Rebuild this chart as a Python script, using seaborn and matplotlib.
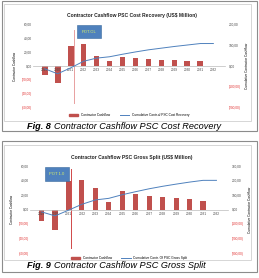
import numpy as np
import pandas as pd
import seaborn as sns
import matplotlib.pyplot as plt
from matplotlib.patches import Rectangle
from matplotlib.ticker import FuncFormatter
from matplotlib.lines import Line2D
from matplotlib.patches import Patch

# data (US$ Million)
years = ['2019', '2020', '2021', '2022', '2023', '2024', '2025',
         '2026', '2027', '2028', '2029', '2030', '2031', '2032']
cr_cashflow = [-13, -24, 28, 31.5, 15, 6.7, 12.4, 11, 9.5, 8.6, 8, 7, 6.7, 0]
cr_cumulative = [-13, -37, -9, 22.5, 37.5, 44, 56, 67, 77, 85, 93, 100, 107, 107]
gs_cashflow = [-16.5, -27.6, 39, 41, 30, 10.6, 25.7, 21, 19.3, 17, 15.2, 13.8, 12.4, 0]
gs_cumulative = [-16.5, -44, -5, 36, 66, 77, 102, 123, 143, 160, 175, 189, 201, 201]

W, H = 259, 278
bar_red = '#C0504D'
line_blue = '#4F81BD'
neg_red = '#E03030'

plt.rcParams['font.family'] = ['Liberation Sans', 'DejaVu Sans']

fig = plt.figure(figsize=(W / 100, H / 100), dpi=100)


def px(x0, y0, x1, y1):
    return [x0 / W, 1 - y1 / H, (x1 - x0) / W, (y1 - y0) / H]


def fmt(v, pos):
    if abs(v) < 1e-9:
        return '0,00'
    s = '{:.2f}'.format(abs(v)).replace('.', ',')
    return '({})'.format(s) if v < 0 else s


def frame(x0, y0, x1, y1, color, lw):
    r = Rectangle((x0 / W, 1 - y1 / H), (x1 - x0) / W, (y1 - y0) / H,
                  transform=fig.transFigure, fill=False, ec=color, lw=lw)
    fig.add_artist(r)


def panel(rect, cash, cum, rlim, rticks, title, title_y, box_txt, box_xy,
          vline, vcol, bar_w, leg_label, leg_y, cap_num, cap_txt, cap_y):
    df = pd.DataFrame({'year': years, 'cash': cash, 'cum': cum})
    ax = fig.add_axes(px(*rect))
    sns.barplot(data=df, x='year', y='cash', color=bar_red, width=bar_w,
                saturation=1, ax=ax)
    ax.set_ylim(-60, 60)
    ax.set_yticks([-60, -40, -20, 0, 20, 40, 60])
    ax.yaxis.set_major_formatter(FuncFormatter(fmt))
    ax.axvline(vline[0], ymin=(vline[1] + 60) / 120, ymax=(vline[2] + 60) / 120,
               color=vcol, lw=0.7)
    for s in ['top', 'right', 'left']:
        ax.spines[s].set_visible(False)
    ax.spines['bottom'].set_position(('data', 0))
    ax.spines['bottom'].set_color('#BBBBBB')
    ax.spines['bottom'].set_linewidth(0.5)
    ax.tick_params(axis='both', labelsize=2.3, length=0, pad=1, colors='#444444')
    ax.tick_params(axis='x', pad=1.5)
    ax.set_xlabel('')
    ax.set_ylabel('Contractor Cashflow', fontsize=2.3, labelpad=3)

    ax2 = ax.twinx()
    sns.lineplot(data=df, x='year', y='cum', color=line_blue, lw=0.7,
                 sort=False, ax=ax2)
    ax2.set_ylim(-rlim, rlim)
    ax2.set_yticks(rticks)
    ax2.yaxis.set_major_formatter(FuncFormatter(fmt))
    for s in ax2.spines.values():
        s.set_visible(False)
    ax2.tick_params(axis='y', labelsize=2.3, length=0, pad=3, colors='#444444')
    ax2.set_ylabel('Cumulative Contractor Cashflow', fontsize=2.3, labelpad=3)
    ax2.set_xlabel('')

    for a in (ax, ax2):
        for t in a.get_yticklabels():
            if t.get_text().startswith('('):
                t.set_color(neg_red)

    ax.text(box_xy[0], box_xy[1], box_txt, ha='center', va='center',
            fontsize=3.0, color='#D8F06A', zorder=5,
            bbox=dict(boxstyle='square,pad=1.15', fc='#4F81BD', ec='#3A6A9E', lw=0.4))

    fig.text(0.5 * (rect[0] + rect[2]) / W + 0.01, 1 - title_y / H, title,
             ha='center', va='center', fontsize=3.6, fontweight='bold', color='#222222')

    handles = [Patch(color=bar_red, label='Contractor Cashflow'),
               Line2D([], [], color=line_blue, lw=0.7, label=leg_label)]
    fig.legend(handles=handles, loc='center', bbox_to_anchor=(0.5 * (rect[0] + rect[2]) / W, 1 - leg_y / H),
               ncol=2, fontsize=2.3, frameon=False, handlelength=3, handleheight=0.6,
               columnspacing=3, borderpad=0)

    t1 = fig.text(27 / W, 1 - cap_y / H, cap_num, ha='left', va='center',
                  fontsize=6.6, fontweight='bold', style='italic')
    fig.canvas.draw()
    bb = t1.get_window_extent()
    fig.text(bb.x1 / W + 0.012, 1 - cap_y / H, cap_txt, ha='left', va='center',
             fontsize=6.6, style='italic')


# frames
frame(2, 1, 257, 131, '#8C8C8C', 0.8)
frame(4, 4, 251, 121, '#D0D0D0', 0.6)
frame(2, 141, 257, 272, '#8C8C8C', 0.8)
frame(4, 145, 251, 260, '#D0D0D0', 0.6)

panel((33, 24, 225, 108), cr_cashflow, cr_cumulative, 200,
      [-200, -100, 0, 100, 200],
      'Contractor Cashflow PSC Cost Recovery (US$ Million)', 16,
      'POT.OL', (3.4, 49), (2.25, -53, 51), '#E8A0A0', 0.45,
      'Cumulative Contr.of PSC Cost Recovery', 115,
      'Fig. 8', 'Contractor Cashflow PSC Cost Recovery', 126)

panel((30, 166, 228, 253), gs_cashflow, gs_cumulative, 300,
      [-300, -200, -100, 0, 100, 200, 300],
      'Contractor Cashflow PSC Gross Split (US$ Million)', 157,
      'POT 1.0', (1.15, 48.7), (2.2, -53, 56), '#D04848', 0.38,
      'Cumulative Contr. Of PSC Gross Split', 258,
      'Fig. 9', 'Contractor Cashflow PSC Gross Split', 266)

plt.savefig('out.png', dpi=100)
